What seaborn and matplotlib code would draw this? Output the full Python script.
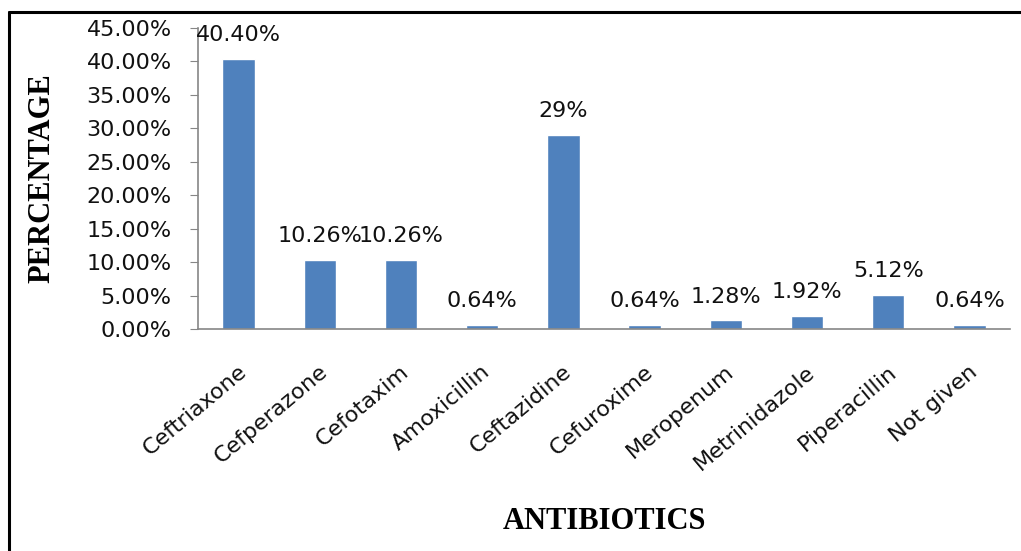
import numpy as np
import pandas as pd
import seaborn as sns
import matplotlib.pyplot as plt
from matplotlib.ticker import PercentFormatter
from matplotlib.lines import Line2D
import matplotlib.transforms as mtransforms

antibiotics = ['Ceftriaxone', 'Cefperazone', 'Cefotaxim', 'Amoxicillin', 'Ceftazidine',
               'Cefuroxime', 'Meropenum', 'Metrinidazole', 'Piperacillin', 'Not given']
percent = [40.40, 10.26, 10.26, 0.64, 29.0, 0.64, 1.28, 1.92, 5.12, 0.64]
bar_text = ['40.40%', '10.26%', '10.26%', '0.64%', '29%', '0.64%', '1.28%', '1.92%', '5.12%', '0.64%']
y_ticks = [0, 5, 10, 15, 20, 25, 30, 35, 40, 45]

df = pd.DataFrame({'Antibiotic': antibiotics, 'Percent': percent})

sns.set_style('white')
plt.rcParams['font.family'] = ['DejaVu Sans']

fig = plt.figure(figsize=(10.21, 5.51), dpi=100)
ax = fig.add_axes([198 / 1021, 1 - 329 / 551, 812 / 1021, 301 / 551])

sns.barplot(data=df, x='Antibiotic', y='Percent', color='#4F81BD', saturation=1,
            width=0.4, ax=ax)

ax.set_ylim(0, 45)
ax.set_xlim(-0.5, len(antibiotics) - 0.5)
ax.set_yticks(y_ticks)
ax.yaxis.set_major_formatter(PercentFormatter(100, decimals=2))

# spines like the excel chart: only left and bottom, grey
for side in ['top', 'right']:
    ax.spines[side].set_visible(False)
for side in ['left', 'bottom']:
    ax.spines[side].set_color('#868686')
    ax.spines[side].set_linewidth(1.2)

ax.tick_params(axis='y', which='major', left=True, length=6, color='#868686',
               labelsize=16, labelcolor='#111111', pad=13)
ax.tick_params(axis='x', length=0, labelsize=16, labelcolor='#111111', pad=29)

shift = mtransforms.ScaledTranslation(4 / 72, 0, fig.dpi_scale_trans)
for lbl in ax.get_xticklabels():
    lbl.set_rotation(40)
    lbl.set_ha('right')
    lbl.set_va('center')
    lbl.set_rotation_mode('anchor')
    lbl.set_transform(lbl.get_transform() + shift)

ax.bar_label(ax.containers[0], labels=bar_text, padding=10, fontsize=16, color='#111111')

ax.set_ylabel('PERCENTAGE', family='Liberation Serif', fontweight='bold', fontsize=22,
              color='black')
ax.yaxis.set_label_coords(-0.192, 0.5)
ax.yaxis.label.set_va('center')
ax.set_xlabel('ANTIBIOTICS', family='Liberation Serif', fontweight='bold', fontsize=22,
              color='black')
ax.xaxis.set_label_coords(0.501, -0.641)
ax.xaxis.label.set_va('center')

# outer frame (top and left edges visible in the crop)
fig.add_artist(Line2D([8.5 / 1021, 1], [1 - 12 / 551, 1 - 12 / 551], transform=fig.transFigure,
                      color='black', linewidth=2.2))
fig.add_artist(Line2D([8.5 / 1021, 8.5 / 1021], [0, 1 - 12 / 551], transform=fig.transFigure,
                      color='black', linewidth=2.2))

fig.savefig('out.png', dpi=100)
